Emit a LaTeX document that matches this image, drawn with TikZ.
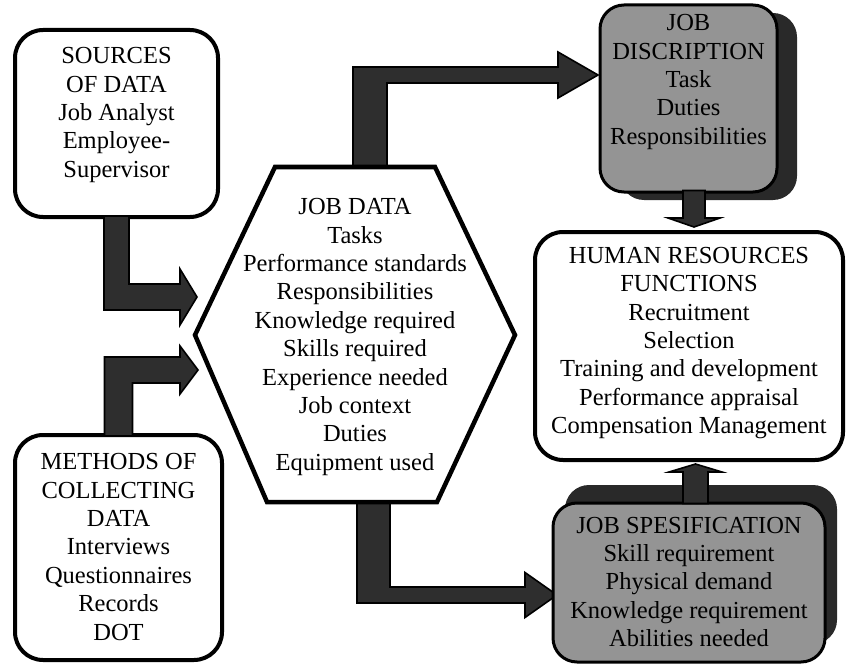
\documentclass[tikz,border=0pt]{standalone}
\usepackage{fontspec}
\setmainfont{Liberation Serif}
\usetikzlibrary{calc}
\definecolor{boxgrey}{gray}{0.58}
\definecolor{shadowgrey}{gray}{0.16}
\definecolor{arrowfill}{gray}{0.18}
\begin{document}
\begin{tikzpicture}[x=1pt,y=-1pt,
  box/.style={draw=black, line width=4pt, fill=white, rounded corners=28pt, inner sep=0pt},
  greybox/.style={draw=black, line width=3pt, fill=boxgrey, rounded corners=24pt, inner sep=0pt},
  shadowbox/.style={fill=shadowgrey, draw=none, rounded corners=24pt, inner sep=0pt},
  hexa/.style={draw=black, line width=4.5pt, fill=white, line join=miter},
  txt/.style={align=center, inner sep=0pt, font=\fontsize{24.5}{28.4}\selectfont},
  fat/.style={draw=black, line width=1.6pt, fill=arrowfill, line join=miter},
]
\useasboundingbox (0,0) rectangle (846,666);

% drop shadows of the two grey boxes
\node[shadowbox, minimum width=177pt, minimum height=187pt] (jdsh) at (708.5,106.5) {};
\node[shadowbox, minimum width=272pt, minimum height=159pt] (jssh) at (701,564.5) {};

% box outlines (text is placed separately)
\node[box, minimum width=203pt, minimum height=187pt] (src) at (116.5,123.5) {};
\node[box, minimum width=207pt, minimum height=225pt] (mth) at (118.5,547.5) {};
\node[box, minimum width=308pt, minimum height=228pt] (hr) at (689,346) {};

% arrow end points
\path (src.south) ++(0,-3) coordinate (a1s);
\coordinate (a1t) at (197,297);
\path (mth.north) ++(0,3) coordinate (a2s);
\coordinate (a2t) at (198,370);
\coordinate (a3s) at (370,170);
\coordinate (a3t) at (598,75);
\coordinate (a4s) at (373.5,499);
\coordinate (a4t) at (557,595);

% block arrows
\draw[fat] ($(a1s)+(-12.5,0)$) |- ($(a1t)+(-17,13)$) -- ++(0,15) -- (a1t)
  -- ++(-17,-28) -- ++(0,15) -| ($(a1s)+(12.5,0)$) -- cycle;
\draw[fat] ($(a2s)+(-14,0)$) |- ($(a2t)+(-18,-13)$) -- ++(0,-11) -- (a2t)
  -- ++(-18,24) -- ++(0,-11) -| ($(a2s)+(14,0)$) -- cycle;
\draw[fat] ($(a3s)+(-17,0)$) |- ($(a3t)+(-40,-8)$) -- ++(0,-15) -- (a3t)
  -- ++(-40,23) -- ++(0,-15) -| ($(a3s)+(17,0)$) -- cycle;
\draw[fat] ($(a4s)+(-16.5,0)$) |- ($(a4t)+(-32,8)$) -- ++(0,14.5) -- (a4t)
  -- ++(-32,-22.5) -- ++(0,14.5) -| ($(a4s)+(16.5,0)$) -- cycle;

% main grey boxes
\node[greybox, minimum width=177pt, minimum height=187pt] (jd) at (688.5,98.5) {};
\node[greybox, minimum width=272pt, minimum height=159pt] (js) at (689,582.5) {};

% short vertical arrows into the HR box
\path (jd.south) ++(5.5,-3) coordinate (a5s);
\path (hr.north) ++(5,-3) coordinate (a5t);
\path (js.north) ++(6.5,2) coordinate (a6s);
\path (hr.south) ++(6.5,2) coordinate (a6t);
\draw[fat] ($(a5s)+(-11,0)$) -- ($(a5t)+(-11,-9)$) -- ++(-15,0) -- (a5t)
  -- ++(26,-9) -- ++(-15,0) -- ($(a5s)+(11,0)$) -- cycle;
\draw[fat] ($(a6s)+(-12.5,0)$) -- ($(a6t)+(-12.5,8)$) -- ++(-14,0) -- (a6t)
  -- ++(26.5,8) -- ++(-14,0) -- ($(a6s)+(12.5,0)$) -- cycle;

% central hexagon
\draw[hexa] (275,167) -- (435,167) -- (515,335) -- (437,502) -- (267,502) -- (195,335) -- cycle;

% texts
\node[txt] (srcT) at (116.5,115) {SOURCES\\OF DATA\\Job Analyst\\Employee-\\Supervisor};
\node[txt] (mthT) at (118.5,547) {METHODS OF\\COLLECTING\\DATA\\Interviews\\Questionnaires\\Records\\DOT};
\node[txt] (hexT) at (355,337) {JOB DATA\\Tasks\\Performance standards\\Responsibilities\\Knowledge required\\Skills required\\Experience needed\\Job context\\Duties\\Equipment used};
\node[txt] (jdT) at (688.5,82) {JOB\\DISCRIPTION\\Task\\Duties\\Responsibilities};
\node[txt] (hrT) at (689,343) {HUMAN RESOURCES\\FUNCTIONS\\Recruitment\\Selection\\Training and development\\Performance appraisal\\Compensation Management};
\node[txt] (jsT) at (689,582) {JOB SPESIFICATION\\Skill requirement\\Physical demand\\Knowledge requirement\\Abilities needed};
\end{tikzpicture}
\end{document}
